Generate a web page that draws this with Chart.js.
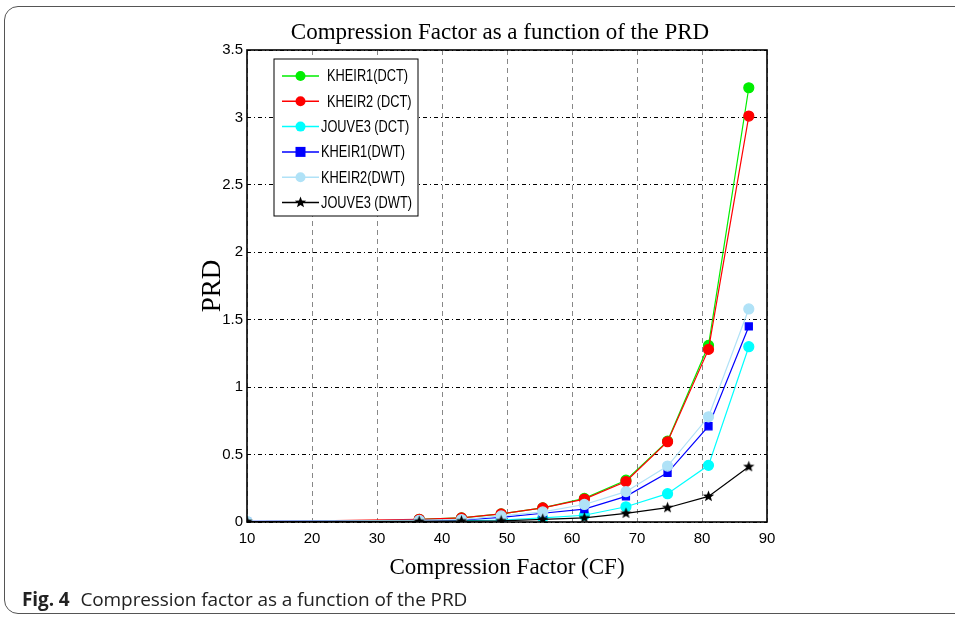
<!DOCTYPE html>
<html>
<head>
<meta charset="utf-8">
<script src="https://cdn.jsdelivr.net/npm/chart.js@4.4.0/dist/chart.umd.min.js"></script>
<style>
  html, body { margin: 0; padding: 0; background: #fff; width: 955px; height: 619px; overflow: hidden; }
  #frame { position: absolute; left: 4px; top: 6px; width: 980px; height: 608px; border: 1.5px solid #555; border-radius: 14px; box-sizing: border-box; }
  #wrap { position: absolute; left: 0; top: 0; width: 955px; height: 619px; }
  #caption { position: absolute; left: 22px; top: 586px; font-family: "Open Sans", sans-serif; font-size: 19px; color: #222; letter-spacing: -0.1px; }
  #caption b { font-weight: 700; margin-right: 6px; }
</style>
</head>
<body>
<div id="frame"></div>
<div id="wrap"><canvas id="c" width="955" height="619"></canvas></div>
<div id="caption"><b>Fig. 4</b> Compression factor as a function of the PRD</div>
<script>
// ---- data ----
const cf = [10, 36.5, 43, 49.1, 55.5, 61.9, 68.3, 74.7, 81, 87.2];
const cfRed = [23.6, 36.5, 43, 49.1, 55.5, 61.9, 68.3, 74.7, 81, 87.2];
const seriesNames = ["KHEIR1(DCT)", "KHEIR2 (DCT)", "JOUVE3 (DCT)", "KHEIR1(DWT)", "KHEIR2(DWT)", "JOUVE3 (DWT)"];
const kheir1DCT = [null, 0.02, 0.03, 0.06, 0.105, 0.175, 0.31, 0.60, 1.31, 3.22];
const kheir2DCT = [0.01, 0.02, 0.03, 0.06, 0.105, 0.17, 0.30, 0.595, 1.28, 3.01];
const jouve3DCT = [null, 0.008, 0.01, 0.015, 0.03, 0.05, 0.113, 0.21, 0.42, 1.30];
const kheir1DWT = [0.005, 0.012, 0.015, 0.035, 0.065, 0.095, 0.19, 0.365, 0.71, 1.45];
const kheir2DWT = [0.005, 0.012, 0.018, 0.045, 0.075, 0.13, 0.225, 0.415, 0.78, 1.58];
const jouve3DWT = [0.003, 0.005, 0.007, 0.008, 0.02, 0.03, 0.064, 0.106, 0.19, 0.41];
const xTicks = [10, 20, 30, 40, 50, 60, 70, 80, 90];
const yTicks = [0, 0.5, 1, 1.5, 2, 2.5, 3, 3.5];
const chartTitle = 'Compression Factor as a function of the PRD';

// ---- marker image for filled star ----
function makeStar(size, color) {
  const c = document.createElement('canvas');
  c.width = size; c.height = size;
  const g = c.getContext('2d');
  const cx = size / 2, cy = size / 2, R = size / 2 - 0.5, r = R * 0.42;
  g.beginPath();
  for (let i = 0; i < 10; i++) {
    const a = -Math.PI / 2 + i * Math.PI / 5;
    const rr = i % 2 === 0 ? R : r;
    g.lineTo(cx + rr * Math.cos(a), cy + rr * Math.sin(a));
  }
  g.closePath();
  g.fillStyle = color; g.fill();
  return c;
}
const starImg = makeStar(13, '#000');

function pts(xs, ys) {
  const out = [];
  for (let i = 0; i < xs.length; i++) if (ys[i] !== null) out.push({ x: xs[i], y: ys[i] });
  return out;
}

const colors = ['#00ee00', '#ff0000', '#00ffff', '#0000ff', '#b0e2f7', '#000000'];
const styles = ['circle', 'circle', 'circle', 'rect', 'circle', starImg];
const radii = [5, 5, 5, 5, 5, 6];
const dataArr = [pts(cf, kheir1DCT), pts(cfRed, kheir2DCT), pts(cf, jouve3DCT), pts(cf, kheir1DWT), pts(cf, kheir2DWT), pts(cf, jouve3DWT)];

const datasets = seriesNames.map((n, i) => ({
  label: n,
  data: dataArr[i],
  borderColor: colors[i],
  backgroundColor: colors[i],
  pointBackgroundColor: colors[i],
  pointBorderColor: colors[i],
  pointStyle: styles[i],
  pointRadius: i === 1 ? dataArr[i].map((p, k) => k === 0 ? 0 : 5) : radii[i],
  borderWidth: 1.2,
  tension: 0,
  order: 6 - i
}));

const frameLegend = {
  id: 'frameLegend',
  afterDraw(chart) {
    const ctx = chart.ctx, a = chart.chartArea;
    ctx.save();
    ctx.strokeStyle = '#000'; ctx.lineWidth = 1.6;
    ctx.strokeRect(a.left, a.top, a.right - a.left, a.bottom - a.top);
    // title
    ctx.fillStyle = '#000';
    ctx.font = '23px "Liberation Serif", "DejaVu Serif", serif';
    ctx.textAlign = 'center'; ctx.textBaseline = 'middle';
    ctx.fillText(chartTitle, (a.left + a.right) / 2 - 7, a.top - 17);
    // legend
    ctx.textAlign = 'left';
    const lx = a.left + 27, ly = a.top + 9, lw = 144, lh = 157;
    ctx.fillStyle = '#fff';
    ctx.fillRect(lx, ly, lw, lh);
    ctx.lineWidth = 1; ctx.strokeStyle = '#000';
    ctx.strokeRect(lx, ly, lw, lh);
    const step = 25.3;
    ctx.font = '16px "Liberation Sans", Arial, sans-serif';
    seriesNames.forEach((n, i) => {
      const y = ly + 17 + i * step;
      const x0 = lx + 8, x1 = lx + 45, xm = (x0 + x1) / 2;
      ctx.strokeStyle = colors[i]; ctx.lineWidth = 1.5;
      ctx.beginPath(); ctx.moveTo(x0, y); ctx.lineTo(x1, y); ctx.stroke();
      ctx.fillStyle = colors[i];
      if (styles[i] === 'circle') { ctx.beginPath(); ctx.arc(xm, y, 5, 0, Math.PI * 2); ctx.fill(); }
      else if (styles[i] === 'rect') { ctx.fillRect(xm - 5, y - 5, 10, 10); }
      else { ctx.drawImage(starImg, xm - 6.5, y - 6.5); }
      ctx.fillStyle = '#000';
      ctx.save();
      ctx.translate(lx + (i === 0 || i === 1 ? 53 : 47), y + 1);
      ctx.scale(0.8, 1);
      ctx.fillText(n, 0, 0);
      ctx.restore();
    });
    ctx.restore();
  }
};

new Chart(document.getElementById('c'), {
  type: 'line',
  data: { datasets },
  options: {
    responsive: false,
    animation: false,
    layout: { padding: { left: 193, right: 188, top: 50, bottom: 37 } },
    plugins: {
      legend: { display: false },
      tooltip: { enabled: false },
      title: { display: false }
    },
    scales: {
      x: {
        type: 'linear', min: 10, max: 90,
        afterBuildTicks: s => { s.ticks = xTicks.map(v => ({ value: v })); },
        afterFit: s => { s.height = 60; },
        grid: { color: '#888', lineWidth: 1, drawTicks: false },
        border: { display: false, dash: [5, 4] },
        ticks: { color: '#000', padding: 8, font: { family: '"Liberation Sans", sans-serif', size: 15 }, maxRotation: 0, callback: v => String(v) },
        title: { display: true, text: 'Compression Factor (CF)', color: '#000', padding: { top: 0, bottom: 0 }, font: { family: '"Liberation Serif", "DejaVu Serif", serif', size: 23 } }
      },
      y: {
        type: 'linear', min: 0, max: 3.5,
        afterBuildTicks: s => { s.ticks = yTicks.map(v => ({ value: v })); },
        afterFit: s => { s.width = 54; },
        grid: { color: '#000', lineWidth: 1, drawTicks: false },
        border: { display: false, dash: [4, 3, 1, 3] },
        ticks: { color: '#000', padding: 4, font: { family: '"Liberation Sans", sans-serif', size: 15 }, callback: v => String(v) },
        title: { display: true, text: 'PRD', color: '#000', padding: { top: 4, bottom: 0 }, font: { family: '"Liberation Serif", "DejaVu Serif", serif', size: 27 } }
      }
    }
  },
  plugins: [frameLegend]
});
</script>
</body>
</html>
